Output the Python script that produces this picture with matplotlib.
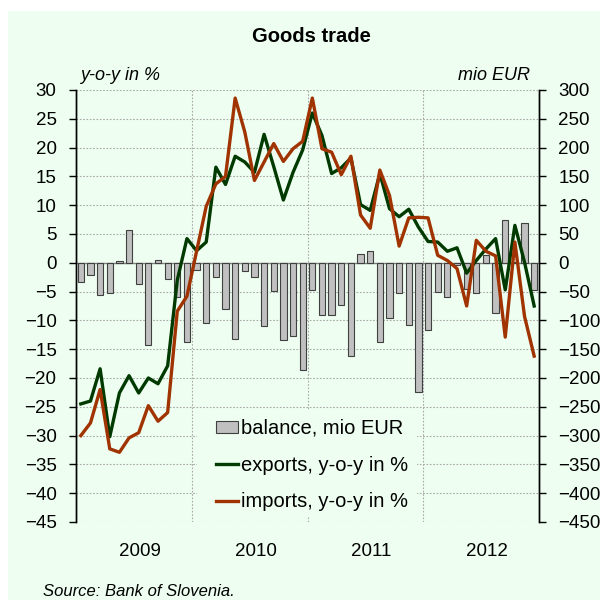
import numpy as np
import matplotlib
matplotlib.use("Agg")
import matplotlib.pyplot as plt
import matplotlib.transforms as mtransforms
from matplotlib.patches import Rectangle, Patch
from matplotlib.lines import Line2D

plt.rcParams['font.family'] = ['Liberation Sans', 'DejaVu Sans']

# monthly data, Jan 2009 - Dec 2012
years = ['2009', '2010', '2011', '2012']
balance = [-34, -22, -56, -53, 3, 57, -36, -142, 5, -28, -59, -137,
           -13, -104, -24, -80, -132, -14, -25, -110, -49, -134, -127, -186,
           -47, -91, -90, -73, -161, 16, 21, -137, -95, -52, -108, -224,
           -117, -50, -60, -4, -45, -52, 13, -88, 75, 2, 69, -47]
exports = [-24.5, -24.0, -18.4, -30.2, -22.6, -19.6, -22.6, -20.0, -21.0, -17.9, -3.0, 4.2,
           2.1, 3.6, 16.6, 13.6, 18.5, 17.5, 15.7, 22.3, 16.7, 10.9, 15.7, 19.6,
           26.0, 22.1, 15.5, 16.5, 18.2, 10.1, 9.1, 15.5, 9.4, 8.0, 9.3, 6.2,
           3.7, 3.6, 2.0, 2.6, -1.8, 0.4, 2.4, 4.2, -4.7, 6.5, 0.1, -7.5]
imports = [-30.0, -27.8, -22.0, -32.3, -32.9, -30.4, -29.5, -24.8, -27.5, -26.0, -8.4, -5.8,
           2.0, 9.8, 13.7, 15.0, 28.6, 22.7, 14.3, 17.5, 20.7, 17.6, 19.8, 21.1,
           28.6, 19.8, 19.2, 15.3, 18.5, 8.3, 6.0, 16.1, 11.7, 2.9, 7.8, 7.9,
           7.8, 1.3, 0.4, -1.0, -7.5, 3.9, 2.0, 1.2, -12.9, 3.6, -9.3, -16.2]

mint = '#EEFFF1'
green = '#003A00'
brown = '#A03300'

x = np.arange(len(balance)) + 0.5

fig = plt.figure(figsize=(6, 6), dpi=100)
fig.patches.append(Rectangle((8 / 600, 0), 1, 1 - 11 / 600, transform=fig.transFigure,
                             facecolor=mint, edgecolor='none', zorder=-10))

ax2 = fig.add_axes([76 / 600, 1 - 522 / 600, 463 / 600, 432 / 600])
ax = ax2.twinx()
ax2.patch.set_visible(False)

# bars on right axis (mio EUR)
ax2.bar(x, balance, width=0.65, color='#C0C0C0', edgecolor='#404040', linewidth=0.8, zorder=3)
ax2.set_ylim(-450, 300)
ax2.set_yticks(np.arange(-450, 301, 50))
ax2.yaxis.tick_right()
ax2.set_xlim(0, 48)
ax2.set_xticks([0, 12, 24, 36, 48])
ax2.set_xticklabels([])
ax2.set_xticks([6, 18, 30, 42], minor=True)
ax2.set_xticklabels(years, minor=True)
ax2.tick_params(axis='x', which='both', length=0)
ax2.tick_params(axis='x', which='minor', pad=15, labelsize=13.5)
shift = mtransforms.ScaledTranslation(6 / 100, 0, fig.dpi_scale_trans)
for lab in ax2.get_xticklabels(minor=True):
    lab.set_transform(lab.get_transform() + shift)
ax2.tick_params(axis='y', direction='out', length=5, width=1, pad=9, labelsize=13.5)
ax2.grid(True, which='major', color='#A8A8A8', linestyle=(0, (1.5, 1.5)), linewidth=0.8, zorder=0)
ax2.set_axisbelow(True)
ax2.axhline(0, color='#808080', linewidth=1.0, zorder=2)

# lines on left axis (y-o-y %)
ax.plot(x, exports, color=green, linewidth=2.4, zorder=4)
ax.plot(x, imports, color=brown, linewidth=2.4, zorder=4)
ax.set_ylim(-45, 30)
ax.set_yticks(np.arange(-45, 31, 5))
ax.yaxis.tick_left()
ax.tick_params(axis='y', direction='out', length=5, width=1, pad=9, labelsize=13.5)

for a in (ax, ax2):
    a.spines['top'].set_visible(False)
    a.spines['bottom'].set_visible(False)
    a.spines['left'].set_linewidth(1.0)
    a.spines['right'].set_linewidth(1.0)

# mint box behind the legend hides the grid there
ax.add_patch(Rectangle((197 / 600, 1 - 517 / 600), 220 / 600, 107 / 600,
                       transform=fig.transFigure, facecolor=mint, edgecolor='none', zorder=1))

handles = [Patch(facecolor='#C0C0C0', edgecolor='#404040', linewidth=0.8),
           Line2D([], [], color=green, linewidth=2.4),
           Line2D([], [], color=brown, linewidth=2.4)]
labels = ['balance, mio EUR', 'exports, y-o-y in %', 'imports, y-o-y in %']
ax.legend(handles, labels, loc='upper left', bbox_to_anchor=(216 / 600, 1 - 419 / 600),
          bbox_transform=fig.transFigure, frameon=False, fontsize=14.5,
          handlelength=1.1, handleheight=0.6, handletextpad=0.15,
          labelspacing=0.88, borderpad=0, borderaxespad=0)

fig.text(311 / 600, 1 - 37 / 600, 'Goods trade', ha='center', va='center',
         fontsize=14.5, fontweight='bold')
fig.text(80 / 600, 1 - 75 / 600, 'y-o-y in %', ha='left', va='center',
         fontsize=13, style='italic')
fig.text(530 / 600, 1 - 75 / 600, 'mio EUR', ha='right', va='center',
         fontsize=13, style='italic')
fig.text(43 / 600, 1 - 591 / 600, 'Source: Bank of Slovenia.', ha='left', va='center',
         fontsize=12, style='italic')

fig.savefig('out.png', dpi=100)
